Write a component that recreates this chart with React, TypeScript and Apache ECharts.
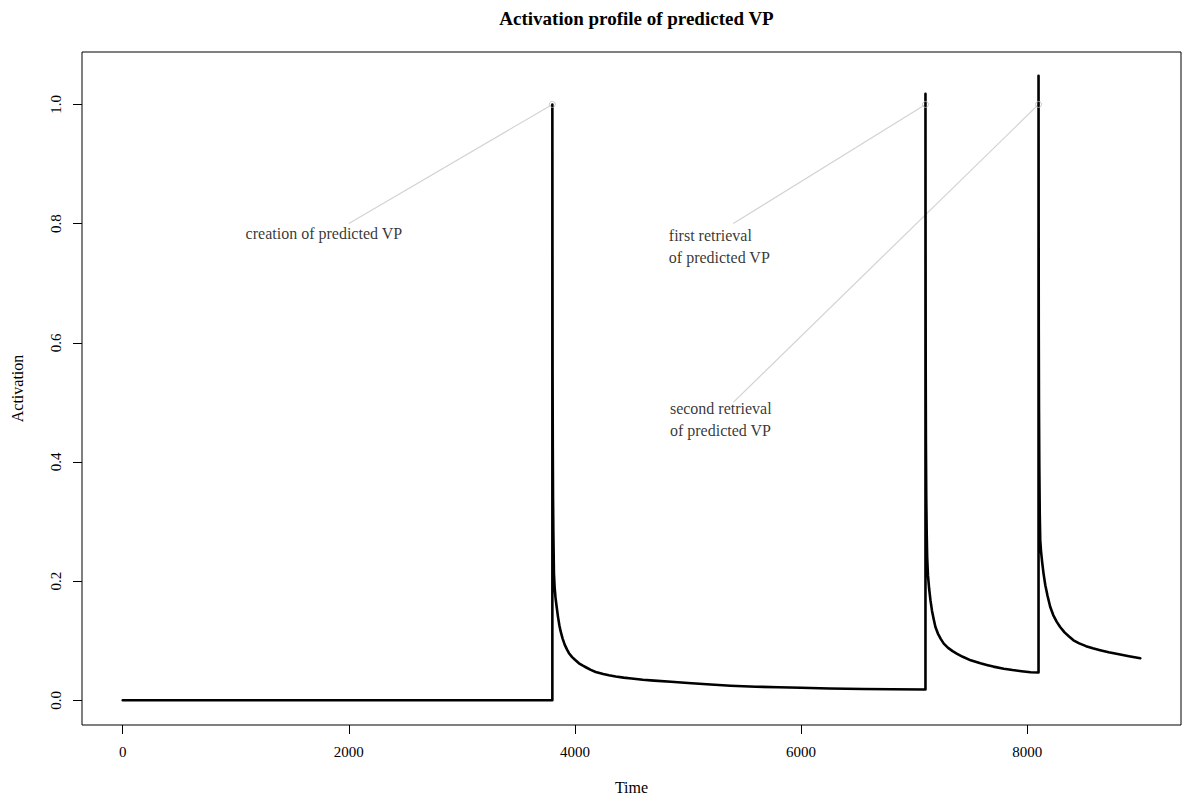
import React, { useEffect, useRef } from "react";
import * as echarts from "echarts";

// Main series (Time, Activation)
const timeValues = [
  0, 3800,
  3800, 3801, 3802, 3804, 3806, 3809, 3814, 3820, 3828, 3838, 3850, 3862, 3873, 3890, 3910, 3930, 3947,
  3975, 4000, 4035, 4070, 4100, 4140, 4183, 4250, 4300, 4360, 4430, 4500, 4600, 4700, 4850, 5000, 5200,
  5376, 5600, 5800, 6000, 6250, 6550, 6800, 7100,
  7100, 7101, 7102, 7104, 7107, 7111, 7115, 7122, 7132, 7144, 7158, 7172, 7188, 7210, 7235, 7262, 7300,
  7340, 7380, 7430, 7500, 7586, 7650, 7700, 7793, 7870, 7950, 8030, 8100,
  8100, 8101, 8102, 8104, 8107, 8111, 8115, 8122, 8132, 8144, 8160, 8180, 8203, 8230, 8260, 8291, 8330,
  8370, 8409, 8460, 8520, 8580, 8645, 8720, 8800, 8900, 9000,
];
const activationValues = [
  0, 0,
  1.0, 0.75, 0.55, 0.42, 0.34, 0.28, 0.213, 0.19, 0.172, 0.157, 0.14, 0.126, 0.116, 0.104, 0.093, 0.085,
  0.079, 0.0725, 0.068, 0.062, 0.058, 0.055, 0.051, 0.0475, 0.044, 0.042, 0.04, 0.038, 0.0365, 0.0345,
  0.033, 0.031, 0.029, 0.0265, 0.0245, 0.0228, 0.0218, 0.021, 0.0198, 0.019, 0.0185, 0.018,
  1.018, 0.75, 0.56, 0.43, 0.34, 0.28, 0.24, 0.21, 0.188, 0.168, 0.15, 0.137, 0.123, 0.112, 0.103, 0.095,
  0.088, 0.0825, 0.078, 0.073, 0.067, 0.062, 0.0588, 0.0565, 0.053, 0.0507, 0.0487, 0.047, 0.0465,
  1.048, 0.8, 0.62, 0.49, 0.39, 0.31, 0.269, 0.25, 0.232, 0.213, 0.193, 0.175, 0.157, 0.143, 0.132, 0.123,
  0.114, 0.107, 0.1007, 0.0955, 0.0908, 0.0872, 0.084, 0.0806, 0.0775, 0.074, 0.0705,
];

const xTicks = [0, 2000, 4000, 6000, 8000];
const yTicks = [0, 0.2, 0.4, 0.6, 0.8, 1.0];

// Annotations
const annotationTexts = ["creation of predicted VP", "first retrieval\nof predicted VP", "second retrieval\nof predicted VP"];
const annotationTargets = [
  [3800, 1.0],
  [7100, 1.0],
  [8100, 1.0],
];
const annotationLineStarts = [
  [2000, 0.8],
  [5400, 0.8],
  [5400, 0.5],
];
const annotationLabelAnchors = [
  [1087, 0.783],
  [4830, 0.761],
  [4840, 0.4705],
];

const SERIF = "'Liberation Serif', 'Times New Roman', serif";

export default function App() {
  const ref = useRef<HTMLDivElement>(null);

  useEffect(() => {
    if (!ref.current) return;
    const chart = echarts.init(ref.current, undefined, { renderer: "svg" });

    const mainData = timeValues.map((t, i) => [t, activationValues[i]]);

    const connectorSeries = annotationLineStarts.map((s, i) => ({
      type: "line",
      data: [s, annotationTargets[i]],
      symbol: "none",
      silent: true,
      lineStyle: { color: "#d3d3d3", width: 1.2 },
      z: 1,
    }));

    const option: any = {
      animation: false,
      backgroundColor: "#ffffff",
      textStyle: { fontFamily: SERIF },
      title: {
        text: "Activation profile of predicted VP",
        left: 631.5,
        top: 4,
        textAlign: "center",
        textStyle: { fontFamily: SERIF, fontWeight: "bold", fontSize: 19, color: "#000" },
      },
      grid: {
        left: 82,
        top: 52,
        right: 5,
        bottom: 80,
        show: true,
        borderColor: "#000",
        borderWidth: 1,
        backgroundColor: "transparent",
      },
      xAxis: {
        type: "value",
        min: -360,
        max: 9360,
        name: "Time",
        nameLocation: "middle",
        nameGap: 54,
        nameTextStyle: { fontFamily: SERIF, fontSize: 16, color: "#000" },
        axisLine: { show: false, onZero: false },
        splitLine: { show: false },
        axisTick: { show: true, customValues: xTicks, length: 9, lineStyle: { color: "#000" } },
        axisLabel: {
          customValues: xTicks,
          fontFamily: SERIF,
          fontSize: 15,
          color: "#000",
          margin: 19,
          formatter: (v: number) => String(v),
        },
      },
      yAxis: {
        type: "value",
        min: -0.0415,
        max: 1.088,
        name: "Activation",
        nameLocation: "middle",
        nameGap: 57,
        nameRotate: 90,
        nameTextStyle: { fontFamily: SERIF, fontSize: 16, color: "#000" },
        axisLine: { show: false, onZero: false },
        splitLine: { show: false },
        axisTick: { show: true, customValues: yTicks, length: 9, lineStyle: { color: "#000" } },
        axisLabel: {
          customValues: yTicks,
          rotate: 90,
          fontFamily: SERIF,
          fontSize: 15,
          color: "#000",
          margin: 19,
          formatter: (v: number) => v.toFixed(1),
        },
      },
      series: [
        ...connectorSeries,
        {
          type: "line",
          data: mainData,
          symbol: "none",
          silent: true,
          lineStyle: { color: "#000", width: 2.6, cap: "round", join: "round" },
          z: 3,
        },
        {
          type: "scatter",
          data: annotationTargets,
          symbol: "circle",
          symbolSize: 6,
          silent: true,
          itemStyle: { color: "transparent", borderColor: "#bdbdbd", borderWidth: 1 },
          z: 4,
        },
        {
          type: "scatter",
          data: annotationLabelAnchors.map((p, i) => ({ value: p, name: annotationTexts[i] })),
          symbolSize: 0,
          silent: true,
          label: {
            show: true,
            position: [0, 0],
            align: "left",
            verticalAlign: "middle",
            formatter: (p: any) => p.name,
            fontFamily: SERIF,
            fontSize: 16,
            lineHeight: 22,
            color: "#000",
          },
          z: 5,
        },
      ],
    };

    chart.setOption(option);
    return () => chart.dispose();
  }, []);

  return (
    <div
      ref={ref}
      style={{ position: "fixed", left: 0, top: 0, width: 1186, height: 805, background: "#fff" }}
    />
  );
}
